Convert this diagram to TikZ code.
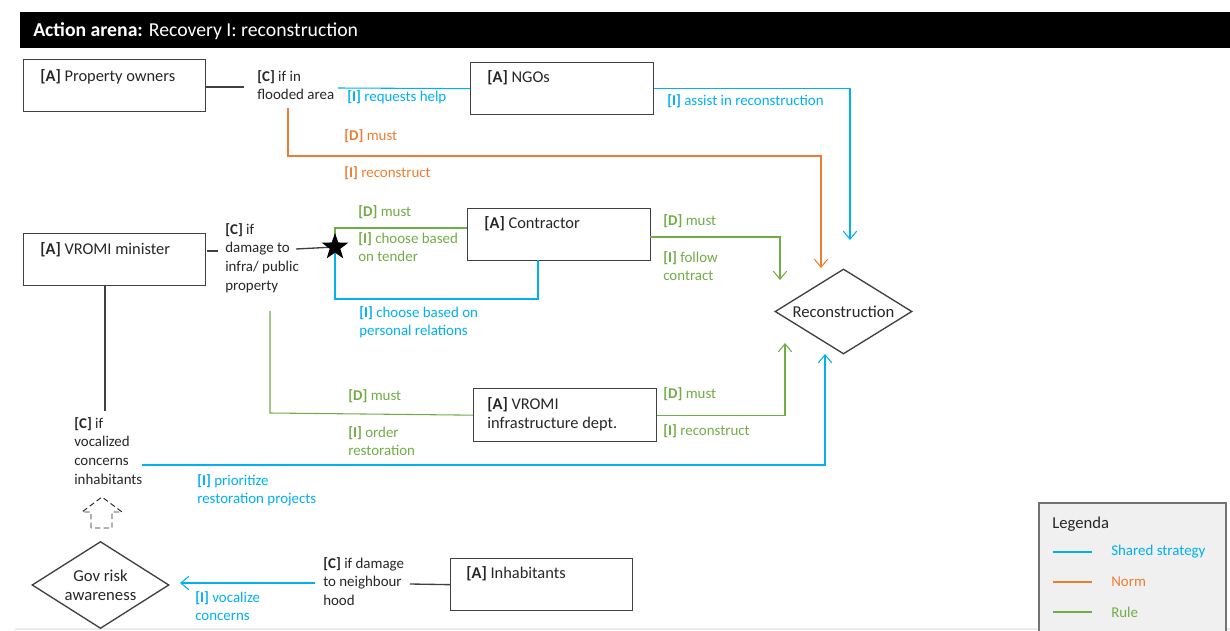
\documentclass[tikz,border=0pt]{standalone}
\usepackage{fontspec}
\setmainfont{Carlito}
\usetikzlibrary{arrows.meta,shapes.geometric}
\definecolor{cblue}{HTML}{00B0F0}
\definecolor{corange}{HTML}{ED7D31}
\definecolor{cgreen}{HTML}{70AD47}
\definecolor{cdark}{HTML}{404040}
\definecolor{ctext}{HTML}{262626}
\definecolor{clegbg}{HTML}{F0F0F0}
\newcommand\tg[1]{\textbf{[#1]}}
\begin{document}
\begin{tikzpicture}[x=0.75pt,y=-0.75pt,
  box/.style={draw=cdark, line width=1pt, minimum width=182*0.75pt, minimum height=52*0.75pt, inner sep=0pt, anchor=north west},
  txt/.style={anchor=north west, inner sep=0pt, align=left, font=\fontsize{11.2}{14}\selectfont, text=ctext},
  atxt/.style={txt, font=\fontsize{12.3}{14.3}\selectfont},
  btxt/.style={txt, text=cblue},
  otxt/.style={txt, text=corange},
  gtxt/.style={txt, text=cgreen},
  kline/.style={draw=cdark, line width=1pt},
  conn/.style={line width=0.8pt},
  arr/.style={-{Straight Barb[length=6pt,width=10pt]}},
  dia/.style={draw=cdark, line width=1pt, shape=diamond, aspect=1.6, inner sep=0pt, align=center, font=\fontsize{12.5}{14.5}\selectfont, text=ctext}
]
\useasboundingbox (0,0) rectangle (1230,631);
% title bar
\fill[black] (20,12) rectangle (1230,48);
\node[anchor=west, inner sep=0pt, text=white, font=\fontsize{14.8}{17}\selectfont] (title) at (33,31) {\textbf{Action arena:} Recovery I: reconstruction};
% faint bottom edge
\draw[black!8, line width=1pt] (15,629) -- (1230,629);
% legend
\filldraw[fill=clegbg, draw=black!55, line width=1pt] (1039,503) rectangle (1226,640);
\node[txt, anchor=west, font=\fontsize{12.5}{15}\selectfont] (leg) at (1052,524) {Legenda};
\coordinate (lb1) at (1053,552); \coordinate (lb2) at (1092,552);
\coordinate (lo1) at (1053,582); \coordinate (lo2) at (1092,582);
\coordinate (lg1) at (1053,612); \coordinate (lg2) at (1092,612);
\draw[conn, cblue] (lb1) -- (lb2);
\draw[conn, corange] (lo1) -- (lo2);
\draw[conn, cgreen] (lg1) -- (lg2);
\node[btxt, anchor=west] (legb) at (1111,552) {Shared strategy};
\node[otxt, anchor=west] (lego) at (1111,582) {Norm};
\node[gtxt, anchor=west] (legg) at (1111,612) {Rule};

% boxes
\node[box] (po) at (23,59) {};
\node[box, minimum width=183*0.75pt] (ngo) at (470,62) {};
\node[box] (min) at (23,233) {};
\node[box, minimum width=183*0.75pt] (con) at (467,208) {};
\node[box, minimum width=183*0.75pt, minimum height=53*0.75pt] (infra) at (473,388) {};
\node[box] (inh) at (450,558) {};
\node[atxt] (tpo) at (40,69) {\tg{A} Property owners};
\node[atxt] (tngo) at (487,70) {\tg{A} NGOs};
\node[atxt] (tmin) at (40,242) {\tg{A} VROMI minister};
\node[atxt] (tcon) at (484,216) {\tg{A} Contractor};
\node[atxt] (tinfra) at (487,397) {\tg{A} VROMI\\infrastructure dept.};
\node[atxt] (tinh) at (466,566) {\tg{A} Inhabitants};

% diamonds
\node[dia, minimum width=137*0.75pt, minimum height=85*0.75pt] (recon) at (843.5,311.5) {Reconstruction};
\node[dia, minimum width=137*0.75pt, minimum height=87*0.75pt] (gov) at (100.5,585) {Gov risk\\awareness};

% condition texts
\node[txt] (c1) at (257,70) {\tg{C} if in\\flooded area};
\node[txt] (c2) at (225,223) {\tg{C} if\\damage to\\infra/ public\\property};
\node[txt] (c3) at (74,417) {\tg{C} if\\vocalized\\concerns\\inhabitants};
\node[txt] (c4) at (323,557) {\tg{C} if damage\\to neighbour\\hood};

% labels
\node[btxt] (lreq) at (347,90) {\tg{I} requests help};
\node[btxt] (lassist) at (667,94) {\tg{I} assist in reconstruction};
\node[otxt] (ldm1) at (344,129) {\tg{D} must};
\node[otxt] (lrc1) at (344,166) {\tg{I} reconstruct};
\node[gtxt] (ldm2) at (358,205) {\tg{D} must};
\node[gtxt] (ltender) at (358,232) {\tg{I} choose based\\on tender};
\node[btxt] (lpers) at (359,306) {\tg{I} choose based on\\personal relations};
\node[gtxt] (ldm3) at (663,214) {\tg{D} must};
\node[gtxt] (lfollow) at (663,251) {\tg{I} follow\\contract};
\node[gtxt] (ldm4) at (348,389) {\tg{D} must};
\node[gtxt] (lorder) at (348,426) {\tg{I} order\\restoration};
\node[gtxt] (ldm5) at (663,387) {\tg{D} must};
\node[gtxt] (lrc2) at (663,424) {\tg{I} reconstruct};
\node[btxt] (lprior) at (197,474) {\tg{I} prioritize\\restoration projects};
\node[btxt] (lvoc) at (195,591) {\tg{I} vocalize\\concerns};

% coordinates
\coordinate (k1) at (244,87);
\coordinate (b0) at (338,88);
\coordinate (a1) at (850,240);
\coordinate (o0) at (288,108);
\coordinate (o1) at (288,156);
\coordinate (a2) at (821,268);
\coordinate (k2a) at (207,251);
\coordinate (k2b) at (218,251);
\coordinate (k3) at (296,249);
\coordinate (sc) at (335,247);
\coordinate (g1) at (467,228);
\coordinate (b1) at (335,299);
\coordinate (b2) at (538,260);
\coordinate (g2) at (650,237);
\coordinate (a3) at (780,280);
\coordinate (g3) at (270,311);
\coordinate (g4) at (270,413);
\coordinate (a4) at (785,343);
\coordinate (b5) at (142,465);
\coordinate (a5) at (825,354);
\coordinate (k4a) at (105,285);
\coordinate (k4b) at (105,411);
\coordinate (b6) at (315,583);
\coordinate (a6) at (180,583);
\coordinate (k5) at (410,584);

% black connectors
\draw[kline] (po.east |- k1) -- (k1);
\draw[kline] (k2a) -- (k2b);
\draw[kline] (k3) -- (sc);
\draw[kline] (k4a) -- (k4b);
\draw[kline] (k5) -- (inh.west);

% blue
\draw[conn, cblue] (b0) -- (ngo.west);
\draw[conn, cblue, arr] (ngo.east) -| (a1);
\draw[conn, cblue] (sc) -- (b1) -| (b2);
\draw[conn, cblue, arr] (b5) -| (a5);
\draw[conn, cblue, arr] (b6) -- (a6);
% orange
\draw[conn, corange, arr] (o0) -- (o1) -| (a2);
% green
\draw[conn, cgreen] (sc) |- (g1);
\draw[conn, cgreen, arr] (g2) -| (a3);
\draw[conn, cgreen] (g3) -- (g4) -- (infra.west);
\draw[conn, cgreen, arr] (infra.east) -| (a4);

% star
\node[star, star points=5, star point ratio=2.5, fill=black, draw=none, minimum size=28*0.75pt, inner sep=0pt] (star) at (sc) {};

% dashed block arrow
\draw[dashed, dash pattern=on 4pt off 2.5pt, draw=ctext, line width=0.7pt] (91,528) -- (91,512) -- (82,512) -- (102,497) -- (122,512) -- (112,512) -- (112,528) -- cycle;
\end{tikzpicture}
\end{document}
